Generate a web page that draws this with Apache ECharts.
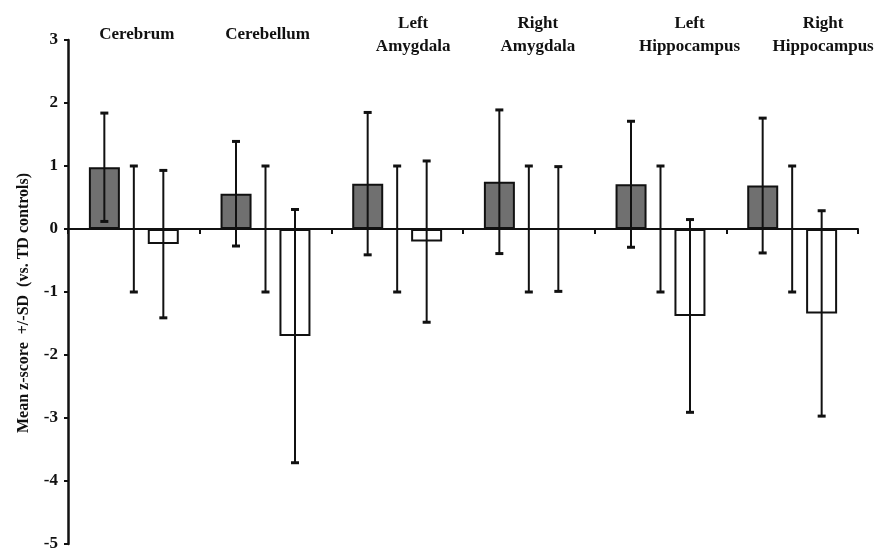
<!DOCTYPE html>
<html>
<head>
<meta charset="utf-8">
<script src="https://cdn.jsdelivr.net/npm/echarts@6/dist/echarts.min.js"></script>
<style>
  html, body { margin: 0; padding: 0; background: #fff; }
  #chart { width: 878px; height: 552px; }
</style>
</head>
<body>
<div id="chart"></div>
<script>
const regions = ['Cerebrum', 'Cerebellum', 'Left\nAmygdala', 'Right\nAmygdala', 'Left\nHippocampus', 'Right\nHippocampus'];
// gray bars
const groupA = [0.98, 0.56, 0.72, 0.75, 0.71, 0.69];
const sdA = [0.86, 0.83, 1.13, 1.14, 1.00, 1.07];
// TD controls (zero line)
const tdMean = [0, 0, 0, 0, 0, 0];
const tdSd = [1, 1, 1, 1, 1, 1];
// white bars
const groupB = [-0.24, -1.70, -0.20, 0, -1.38, -1.34];
const sdB = [1.17, 2.01, 1.28, 0.99, 1.53, 1.63];
const yTicks = [-5, -4, -3, -2, -1, 0, 1, 2, 3];

const labelShift = [3, 2, 16, 9, 29, 31];
const font = '"Liberation Serif", "Times New Roman", serif';

const chart = echarts.init(document.getElementById('chart'));

function errorSeries(means, sds, offset) {
    return {
        type: 'custom',
        xAxisIndex: 0,
        z: 5,
        data: means.map((m, i) => [i, m - sds[i], m + sds[i]]),
        renderItem: function (params, api) {
            const i = api.value(0);
            const lo = api.coord([i, api.value(1)]);
            const hi = api.coord([i, api.value(2)]);
            const bw = api.size([1, 0])[0];
            const x = lo[0] + offset * bw;
            const cap = 4;
            const style = { stroke: '#111', lineWidth: 2 };
            return {
                type: 'group',
                children: [
                    { type: 'line', shape: { x1: x, y1: lo[1], x2: x, y2: hi[1] }, style: style },
                    { type: 'line', shape: { x1: x - cap, y1: hi[1], x2: x + cap, y2: hi[1] }, style: { stroke: '#111', lineWidth: 3 } },
                    { type: 'line', shape: { x1: x - cap, y1: lo[1], x2: x + cap, y2: lo[1] }, style: { stroke: '#111', lineWidth: 3 } }
                ]
            };
        }
    };
}

const option = {
    animation: false,
    grid: { left: 68, right: 20, top: 40, bottom: 8, containLabel: false, outerBoundsMode: 'none' },
    xAxis: [
        {
            type: 'category',
            data: regions,
            axisLine: { onZero: true, lineStyle: { color: '#111', width: 2 } },
            axisTick: { show: true, length: 5, lineStyle: { color: '#111', width: 2 } },
            axisLabel: { show: false },
            splitLine: { show: false }
        },
        {
            type: 'category',
            position: 'top',
            data: regions.map((r, i) => ({
                value: r,
                textStyle: { padding: [0, 0, r.indexOf('\n') < 0 ? 12 : 0, labelShift[i] * 2] }
            })),
            axisLine: { show: false },
            axisTick: { show: false },
            axisLabel: {
                interval: 0,
                hideOverlap: false,
                fontFamily: font,
                fontWeight: 'bold',
                fontSize: 17,
                lineHeight: 23,
                color: '#111',
                margin: -18
            }
        }
    ],
    yAxis: {
        type: 'value',
        min: yTicks[0],
        max: yTicks[yTicks.length - 1],
        interval: 1,
        name: 'Mean z-score  +/-SD  (vs. TD controls)',
        nameLocation: 'middle',
        nameGap: 36,
        nameTextStyle: { fontFamily: font, fontWeight: 'bold', fontSize: 16, color: '#111', padding: [0, 22, 0, 0] },
        axisLine: { show: true, lineStyle: { color: '#111', width: 2.5 } },
        axisTick: { show: true, length: 4, lineStyle: { color: '#111', width: 2 } },
        axisLabel: { fontFamily: font, fontWeight: 'bold', fontSize: 17, color: '#111', margin: 10 },
        splitLine: { show: false }
    },
    series: [
        {
            type: 'bar',
            data: groupA,
            barWidth: 31,
            barGap: '-5%',
            itemStyle: { color: '#707070', borderColor: '#111', borderWidth: 2 }
        },
        {
            type: 'bar',
            data: tdMean,
            barWidth: 31,
            barGap: '-5%',
            itemStyle: { color: 'rgba(0,0,0,0)', borderWidth: 0 }
        },
        {
            type: 'bar',
            data: groupB.map(v => v === 0 ? { value: v, itemStyle: { borderWidth: 0 } } : v),
            barWidth: 31,
            barGap: '-5%',
            itemStyle: { color: '#fff', borderColor: '#111', borderWidth: 2 }
        },
        errorSeries(groupA, sdA, -0.224),
        errorSeries(tdMean, tdSd, 0),
        errorSeries(groupB, sdB, 0.224)
    ]
};

chart.setOption(option);

window.addEventListener('resize', _ => {
    chart.resize();
});
</script>
</body>
</html>
